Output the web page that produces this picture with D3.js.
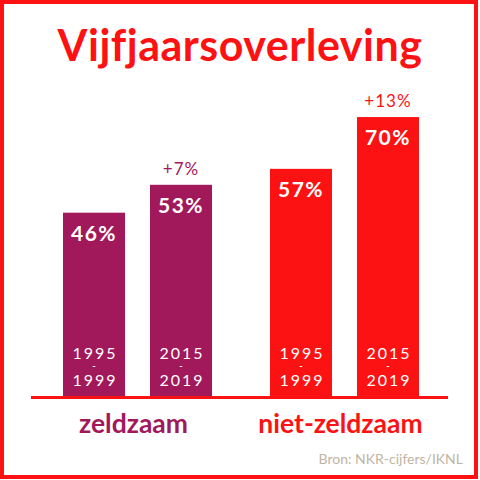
<!DOCTYPE html>
<html>
<head>
<meta charset="utf-8">
<script src="https://cdn.jsdelivr.net/npm/d3@7"></script>
<style>
  body { margin: 0; background: #fff; }
  text { font-family: Lato, "Open Sans", sans-serif; }
</style>
</head>
<body>
<div id="chart"></div>
<script>
const groups = ['zeldzaam', 'niet-zeldzaam'];
const periods = [['1995', '1999'], ['2015', '2019']];
const zeldzaam = [46, 53];
const nietZeldzaam = [57, 70];
const deltas = ['+7%', '+13%'];
const colors = ['#a1185b', '#fc1212'];

const values = [zeldzaam, nietZeldzaam];

const width = 480;
const height = 480;

const svg = d3.select('#chart')
    .append('svg')
    .attr('width', width)
    .attr('height', height);

// red frame
svg.append('rect')
    .attr('x', 2).attr('y', 2)
    .attr('width', 474).attr('height', 475)
    .attr('fill', 'none')
    .attr('stroke', '#fc1212')
    .attr('stroke-width', 4);

svg.append('text')
    .attr('x', 240).attr('y', 61)
    .attr('text-anchor', 'middle')
    .attr('font-size', 43)
    .attr('font-weight', 700)
    .attr('letter-spacing', 0.5)
    .attr('fill', '#fc1212')
    .text('Vijfjaarsoverleving');

const x0 = d3.scaleBand()
    .domain(groups)
    .range([63, 419])
    .paddingInner(0.28);

const x1 = d3.scaleBand()
    .domain(d3.range(periods.length))
    .range([0, x0.bandwidth()])
    .paddingInner(0.287);

const y = d3.scaleLinear()
    .domain([0, 100])
    .range([396, -2.5]);

const g = svg.selectAll('g.group')
    .data(groups)
    .join('g')
    .attr('class', 'group')
    .attr('transform', d => `translate(${x0(d)},0)`);

g.each(function (grp, gi) {
    const sel = d3.select(this);
    const col = colors[gi];
    const vals = values[gi];

    const bar = sel.selectAll('g.bar')
        .data(vals)
        .join('g')
        .attr('class', 'bar')
        .attr('transform', (d, i) => `translate(${x1(i)},0)`);

    bar.append('rect')
        .attr('y', d => y(d))
        .attr('width', x1.bandwidth())
        .attr('height', d => y(0) - y(d))
        .attr('fill', col);

    const cx = x1.bandwidth() / 2;

    bar.append('text')
        .attr('x', cx)
        .attr('y', d => y(d) + 28)
        .attr('text-anchor', 'middle')
        .attr('font-size', 21)
        .attr('font-weight', 700)
        .attr('letter-spacing', 1.5)
        .attr('fill', '#fff')
        .text(d => d + '%');

    // period labels: start year, dash, end year
    bar.each(function (d, i) {
        const b = d3.select(this);
        const lab = b.append('g')
            .attr('text-anchor', 'middle')
            .attr('fill', '#fff');
        lab.append('text')
            .attr('x', cx + 1).attr('y', 359)
            .attr('font-size', 16)
            .attr('letter-spacing', 2)
            .text(periods[i][0]);
        lab.append('text')
            .attr('x', cx).attr('y', 369)
            .attr('font-size', 9)
            .attr('font-weight', 700)
            .text('-');
        lab.append('text')
            .attr('x', cx + 1).attr('y', 386)
            .attr('font-size', 16)
            .attr('letter-spacing', 2)
            .text(periods[i][1]);
    });

    // difference label above newest bar
    sel.append('text')
        .attr('x', x1(1) + cx)
        .attr('y', y(vals[1]) - 10)
        .attr('text-anchor', 'middle')
        .attr('font-size', 17)
        .attr('letter-spacing', 1)
        .attr('fill', col)
        .text(deltas[gi]);

    sel.append('text')
        .attr('x', x0.bandwidth() / 2 - 4)
        .attr('y', 433)
        .attr('text-anchor', 'middle')
        .attr('font-size', 26.5)
        .attr('font-weight', 700)
        .attr('fill', col)
        .text(grp);
});

// baseline
svg.append('line')
    .attr('x1', 31).attr('x2', 448)
    .attr('y1', 397.5).attr('y2', 397.5)
    .attr('stroke', '#fc1212')
    .attr('stroke-width', 3);

svg.append('text')
    .attr('x', 463).attr('y', 464)
    .attr('text-anchor', 'end')
    .attr('font-size', 14)
    .attr('fill', '#c0b5a4')
    .text('Bron: NKR-cijfers/IKNL');
</script>
</body>
</html>
